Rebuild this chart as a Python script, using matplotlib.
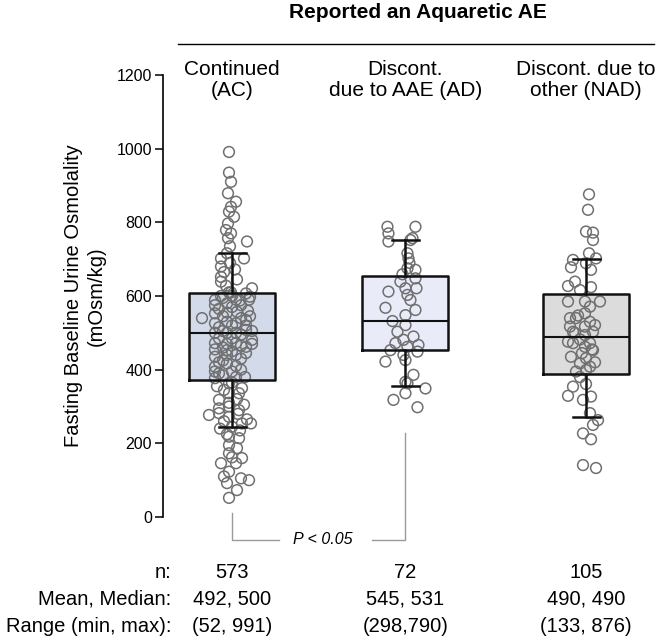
import matplotlib
matplotlib.use("Agg")
import matplotlib.pyplot as plt
from matplotlib.lines import Line2D

plt.rcParams['font.family'] = ['Liberation Sans', 'DejaVu Sans']

# ---------------- data ----------------
groups = ["Continued\n(AC)", "Discont.\ndue to AAE (AD)", "Discont. due to\nother (NAD)"]
n_vals = ["573", "72", "105"]
mean_median = ["492, 500", "545, 531", "490, 490"]
ranges = ["(52, 991)", "(298,790)", "(133, 876)"]

q1 = [371, 453, 388]
median = [500, 531, 490]
q3 = [607, 655, 605]
whis_lo = [245, 357, 272]
whis_hi = [718, 752, 700]

ac_values = [991, 935, 910, 879, 856, 829, 842, 815, 797, 779, 757, 748, 770, 735, 702, 702, 716, 680,
             652, 639, 665, 690, 672, 628, 645, 610, 607, 621, 598, 600, 588,
             540, 589, 553, 526, 472, 435, 408, 377, 575, 500, 455, 395,
             565, 515, 485, 420, 390,
             580, 530, 453, 417, 500, 470, 555, 440,
             595, 545, 505, 460, 425, 385,
             526, 557, 472, 440, 590, 500, 410, 380,
             570, 520, 485, 450, 395, 365,
             575, 540, 495, 465, 430, 400,
             535, 508, 462, 445, 520,
             481, 590, 505, 470, 545, 560,
             610, 600,
             363, 336, 336, 318, 282, 277, 295, 300, 290, 254, 272, 254, 380, 350, 345, 355, 320, 310,
             305, 265, 260, 245, 235, 218, 214, 195, 187, 173, 146, 146, 123, 92, 100, 105, 73, 52,
             162, 110, 160, 240, 280, 225]
ac_jitter = [-3, -3, -1, -4, 4, -3, -1, 2, -4, -6, -4, 15, -1, -2, -11, 12, -5, -11,
             -11, -11, -8, -2, 3, -6, 5, -3, 14, 20, 18, 0, 8,
             -30, -17, -17, -17, -17, -17, -17, -17, -17, -17, -17, -17,
             -13, -13, -13, -13, -13,
             -5, -5, -5, -5, -5, -5, -5, -5,
             -9, -9, -9, -9, -9, -9,
             4, 5, 4, 4, 4, 4, 4, 4,
             0, 0, 0, 0, 0, 0,
             9, 9, 9, 9, 9, 9,
             14, 14, 14, 14, 14,
             20, 17, 20, 20, 18, 16,
             -1, -11,
             -3, -3, 7, -13, -13, -23, -13, -3, 7, 19, -3, 10, 13, 10, -8, -15, 5, -3,
             12, 15, -8, 0, 8, -3, 7, -3, 5, -3, -11, 4, -3, -5, 17, 9, 5, -3,
             0, -8, 10, -12, 6, -5]

ad_values = [788, 788, 770, 748, 757, 752, 716, 702, 675, 671, 659, 648, 612, 621, 621, 603, 589,
             568, 562, 548, 532, 521, 503, 490, 481, 472, 467, 453, 462, 449, 440, 422, 426, 386,
             367, 363, 349, 336, 318, 298, 639, 690]
ad_jitter = [-18, 10, -17, -17, 7, 5, 2, 3, 2, 10, -3, 10, -17, 0, 11, 2, 5,
             -20, 10, 0, -13, 0, -8, 8, -2, -10, 13, -15, 2, 12, -2, -20, 0, 8,
             0, 2, 20, 0, -12, 12, -5, 4]

nad_values = [876, 834, 775, 772, 752, 716, 702, 698, 678, 689, 671, 639, 627, 624, 616, 585, 585,
              585, 571, 553, 540, 521, 517, 517, 503, 503, 494, 482, 476, 472, 472, 462, 453, 435,
              431, 417, 408, 395, 399, 354, 361, 329, 318, 327, 282, 263, 250, 227, 211, 141, 133,
              547, 455, 445, 500, 530, 380, 420, 540]
nad_jitter = [3, 2, 0, 7, 7, 3, 10, -13, -15, 0, 5, -11, -18, 5, -6, -18, -1, 14,
              4, -1, -10, 9, -16, -1, -13, 7, -1, -6, -18, 4, -13, -1, 7, -15,
              0, -6, 4, -10, 0, -13, 0, -18, -3, 5, 4, 12, 7, -3, 5, -3, 10,
              -8, 6, -4, -11, 4, -6, 9, -16]

# ---------------- layout ----------------
W, H = 664, 640
fig = plt.figure(figsize=(W / 100, H / 100), dpi=100)
ax_left_px, ax_top_px, ax_bot_px = 163, 75, 517
ax = fig.add_axes([ax_left_px / W, (H - ax_bot_px) / H, (W - ax_left_px) / W, (ax_bot_px - ax_top_px) / H])

unit = 177.0  # px per category unit
c0 = 232.0
positions = [0.0, 0.98, 2.0]
ax.set_xlim((ax_left_px - c0) / unit, (W - c0) / unit)
ax.set_ylim(0, 1200)

box_colors = ["#d3daea", "#e9ebf8", "#dcdcdc"]
box_w = 86 / unit

stats = []
for i in range(3):
    stats.append(dict(q1=q1[i], med=median[i], q3=q3[i], whislo=whis_lo[i], whishi=whis_hi[i],
                      fliers=[], label=""))

# filled boxes beneath
bp = ax.bxp(stats, positions=positions, widths=box_w, patch_artist=True, showfliers=False,
            boxprops=dict(linewidth=0), medianprops=dict(linewidth=0),
            whiskerprops=dict(linewidth=0), capprops=dict(linewidth=0), zorder=1)
for patch, col in zip(bp['boxes'], box_colors):
    patch.set_facecolor(col)
    patch.set_edgecolor("none")

# points
pt_kw = dict(s=60, facecolors="none", edgecolors="#707070", linewidths=1.1, zorder=2)
for pos, vals, jit in [(positions[0], ac_values, ac_jitter),
                       (positions[1], ad_values, ad_jitter),
                       (positions[2], nad_values, nad_jitter)]:
    ax.scatter([pos + j / unit for j in jit], vals, **pt_kw)

# box outlines on top
ax.bxp(stats, positions=positions, widths=box_w, patch_artist=False, showfliers=False,
       capwidths=27 / unit,
       boxprops=dict(linewidth=1.8, color="#111111"),
       medianprops=dict(linewidth=1.5, color="#111111"),
       whiskerprops=dict(linewidth=1.8, color="#111111"),
       capprops=dict(linewidth=1.8, color="#111111"), zorder=3)

# axes styling
for s in ["top", "right", "bottom"]:
    ax.spines[s].set_visible(False)
ax.spines["left"].set_linewidth(1.2)
ax.set_xticks([])
ax.set_yticks([0, 200, 400, 600, 800, 1000, 1200])
ax.tick_params(axis="y", direction="out", length=6, width=1.1, labelsize=11.5, pad=2)
ax.set_facecolor("none")

ax.set_ylabel("Fasting Baseline Urine Osmolality\n(mOsm/kg)", fontsize=14.5, linespacing=1.25,
              labelpad=8)

# group labels
xtr = ax.get_xaxis_transform()
for pos, g in zip(positions, groups):
    ax.text(pos, (ax_bot_px - 80) / (ax_bot_px - ax_top_px), g, transform=xtr, ha="center",
            va="center", fontsize=15, linespacing=1.15, clip_on=False)

# header
fig.text(418 / W, 1 - 12 / H, "Reported an Aquaretic AE", ha="center", va="center",
         fontsize=15, fontweight="bold")
fig.add_artist(Line2D([178 / W, 654 / W], [1 - 44 / H, 1 - 44 / H], color="black", linewidth=1.0))

# significance bracket
br_y = -62
gray = "#9a9a9a"
ax.plot([positions[0], positions[0], positions[0] + 47 / unit], [11, br_y, br_y], color=gray,
        linewidth=1.0, clip_on=False)
ax.plot([positions[1] - 33 / unit, positions[1], positions[1]], [br_y, br_y, 227], color=gray,
        linewidth=1.0, clip_on=False)
ax.text(positions[0] + 91 / unit, br_y, "P < 0.05", style="italic", fontsize=11.5, ha="center",
        va="center", clip_on=False)

# bottom table
rows_y = [572, 599, 626]
row_labels = ["n:", "Mean, Median:", "Range (min, max):"]
for ry, lab, vals in zip(rows_y, row_labels, [n_vals, mean_median, ranges]):
    yf = 1 - ry / H
    fig.text(171 / W, yf, lab, ha="right", va="center", fontsize=14.5)
    for pos, v in zip(positions, vals):
        xf = (c0 + pos * unit) / W
        fig.text(xf, yf, v, ha="center", va="center", fontsize=14.5)

fig.savefig("out.png", dpi=100)
